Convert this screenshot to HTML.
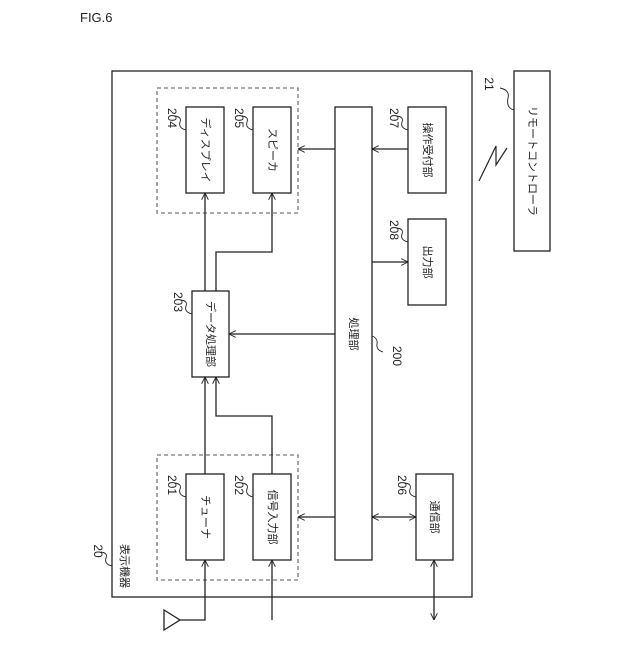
<!DOCTYPE html>
<html><head><meta charset="utf-8"><style>html,body{margin:0;padding:0;background:#fff}</style></head>
<body>
<svg width="640" height="640" viewBox="0 0 640 640" xmlns="http://www.w3.org/2000/svg" font-family="'Liberation Sans','Noto Sans CJK JP',sans-serif">
<defs>
<marker id="a" viewBox="0 0 10 10" refX="10" refY="5" markerWidth="7" markerHeight="7" orient="auto-start-reverse" markerUnits="userSpaceOnUse"><path d="M0,0 L10,5 L0,10" fill="none" stroke="#222" stroke-width="1.3"/></marker>
</defs>
<text x="80" y="22" font-size="13" fill="#222">FIG.6</text>
<g fill="none" stroke="#222" stroke-width="1.3">
<rect x="112" y="71" width="360" height="526"/>
<rect x="157" y="88" width="141" height="125" stroke="#777" stroke-dasharray="4,3"/>
<rect x="157" y="455" width="141" height="125" stroke="#777" stroke-dasharray="4,3"/>
<rect x="186" y="107" width="38" height="86"/>
<rect x="253" y="107" width="38" height="86"/>
<rect x="335" y="107" width="37" height="453"/>
<rect x="408" y="107" width="38" height="86"/>
<rect x="408" y="219" width="38" height="86"/>
<rect x="192" y="291" width="37" height="86"/>
<rect x="186" y="474" width="38" height="86"/>
<rect x="253" y="474" width="38" height="86"/>
<rect x="416" y="474" width="37" height="86"/>
<rect x="514" y="71" width="36" height="180"/>
<path d="M335,149 H298" marker-end="url(#a)"/>
<path d="M408,149 H372" marker-end="url(#a)"/>
<path d="M372,262 H408" marker-end="url(#a)"/>
<path d="M335,334 H229" marker-end="url(#a)"/>
<path d="M335,517 H298" marker-end="url(#a)"/>
<path d="M372,517 H416" marker-start="url(#a)" marker-end="url(#a)"/>
<path d="M205,291 V193" marker-end="url(#a)"/>
<path d="M216,291 V252 H272 V193" marker-end="url(#a)"/>
<path d="M205,474 V377" marker-end="url(#a)"/>
<path d="M272,474 V416 H216 V377" marker-end="url(#a)"/>
<path d="M180,620 H205 V560" marker-end="url(#a)"/>
<path d="M164,610 L180,620 L164,630 Z"/>
<path d="M272,620 V560" marker-end="url(#a)"/>
<path d="M434,620 V560" marker-start="url(#a)" marker-end="url(#a)"/>
<path d="M479,181 L496,146 L496,165 L507,148" stroke-width="1.2"/>
<g stroke-width="0.9">
<path d="M186,130 q-8,-2 -6,-8 q2,-5 -5,-6"/>
<path d="M253,130 q-8,-2 -6,-8 q2,-5 -5,-6"/>
<path d="M408,130 q-8,-2 -6,-8 q2,-5 -5,-6"/>
<path d="M408,242 q-8,-2 -6,-8 q2,-5 -5,-6"/>
<path d="M192,314 q-8,-2 -6,-8 q2,-5 -5,-6"/>
<path d="M186,497 q-8,-2 -6,-8 q2,-5 -5,-6"/>
<path d="M253,497 q-8,-2 -6,-8 q2,-5 -5,-6"/>
<path d="M416,497 q-8,-2 -6,-8 q2,-5 -5,-6"/>
<path d="M514,110 q-8,-2 -6,-12 q2,-8 -8,-10"/>
<path d="M372,336 q6,2 5,8 q-1,6 6,8"/>
<path d="M112,566 q-8,-2 -6,-8 q2,-5 -5,-6"/>
</g>
</g>
<g font-size="11" fill="#222" text-anchor="middle" dominant-baseline="central">
<text transform="translate(205,150) rotate(90)">ディスプレイ</text>
<text transform="translate(272,150) rotate(90)">スピーカ</text>
<text transform="translate(427,150) rotate(90)">操作受付部</text>
<text transform="translate(427,262) rotate(90)">出力部</text>
<text transform="translate(210,334) rotate(90)">データ処理部</text>
<text transform="translate(353,334) rotate(90)">処理部</text>
<text transform="translate(205,517) rotate(90)">チューナ</text>
<text transform="translate(272,517) rotate(90)">信号入力部</text>
<text transform="translate(434,517) rotate(90)">通信部</text>
<text transform="translate(532,161) rotate(90)">リモートコントローラ</text>
<text transform="translate(124,566) rotate(90)">表示機器</text>
<g font-size="12">
<text transform="translate(172,118) rotate(90)">204</text>
<text transform="translate(239,118) rotate(90)">205</text>
<text transform="translate(394,118) rotate(90)">207</text>
<text transform="translate(394,230) rotate(90)">208</text>
<text transform="translate(178,302) rotate(90)">203</text>
<text transform="translate(172,485) rotate(90)">201</text>
<text transform="translate(239,485) rotate(90)">202</text>
<text transform="translate(402,485) rotate(90)">206</text>
<text transform="translate(489,84) rotate(90)">21</text>
<text transform="translate(397,356) rotate(90)">200</text>
<text transform="translate(98,551) rotate(90)">20</text>
</g>
</g>
</svg>
</body></html>
